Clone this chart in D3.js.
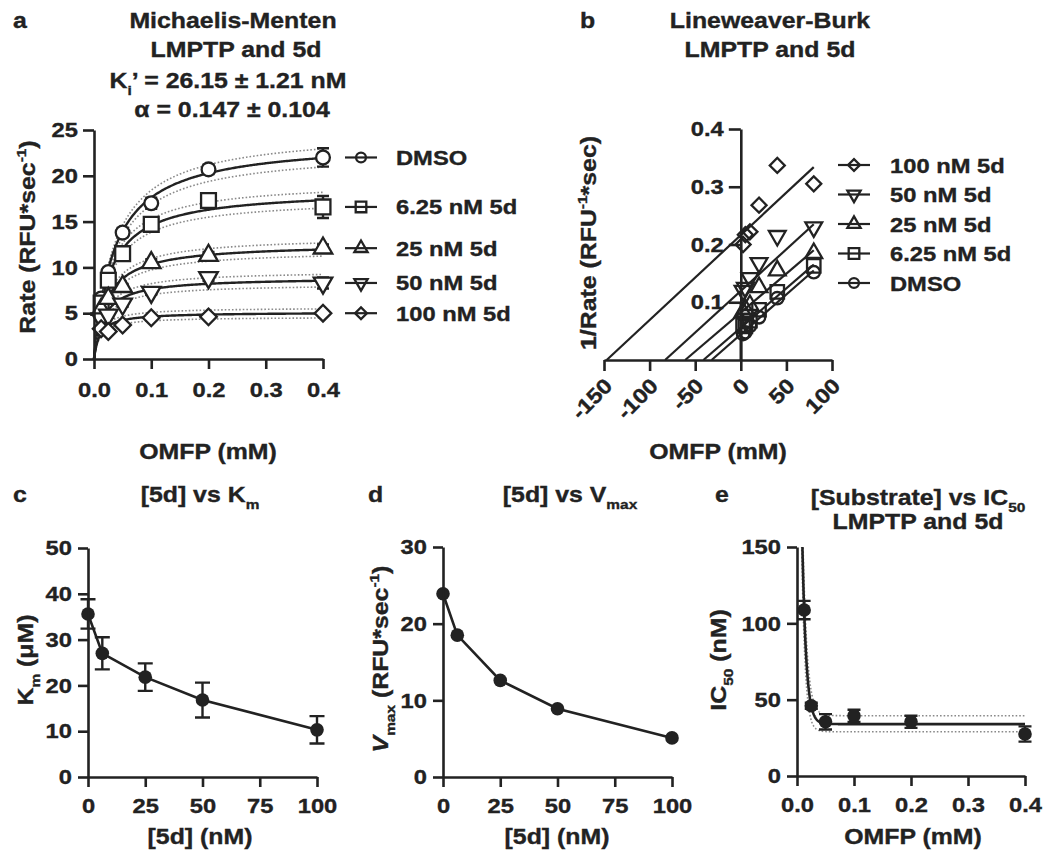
<!DOCTYPE html>
<html><head><meta charset="utf-8">
<script src="https://cdn.jsdelivr.net/npm/d3@7"></script>
<style>
body{margin:0;background:#fff}
svg{display:block}
text{font-family:"Liberation Sans",Arial,Helvetica,sans-serif;font-weight:bold;fill:#222;stroke:#222;stroke-width:0.35px}
</style>
</head><body>
<svg id="chart" width="1050" height="867"></svg>
<script>
// ---------------- DATA ----------------
const seriesNames = ["DMSO", "6.25 nM 5d", "25 nM 5d", "50 nM 5d", "100 nM 5d"];
const inhibitorConc = [0, 6.25, 25, 50, 100];           // nM 5d
const substrate = [0.0125, 0.025, 0.05, 0.1, 0.2, 0.4]; // OMFP mM

// Panel a: rates (RFU/sec)
const rateDMSO = [6.6, 9.5, 13.8, 17.0, 20.7, 22.0];
const rate625  = [6.1, 8.6, 11.5, 14.7, 17.3, 16.6];
const rate25   = [5.4, 6.6, 7.9, 10.5, 11.3, 12.1];
const rate50   = [4.4, 4.8, 6.0, 7.3, 8.9, 8.3];
const rate100  = [3.3, 3.0, 3.7, 4.5, 4.6, 5.0];
const errDMSO = [0.3, 0.4, 0.5, 0.6, 0.5, 1.0];
const err625  = [0.3, 0.4, 0.4, 0.5, 0.5, 1.2];
const err25   = [0.2, 0.3, 0.3, 0.4, 0.4, 0.4];
const err50   = [0.2, 0.3, 0.3, 0.3, 0.4, 0.6];
const err100  = [0.2, 0.2, 0.2, 0.2, 0.2, 0.2];
const bandFrac = [0.045, 0.05, 0.06, 0.08, 0.1];   // relative width of 95% CI bands

// Panel b: Lineweaver-Burk
const invSubstrate = [80, 40, 20, 10, 5, 2.5];
const invRateDMSO = [0.152, 0.107, 0.074, 0.059, 0.048, 0.045];
const invRate625  = [0.163, 0.118, 0.087, 0.068, 0.058, 0.060];
const invRate25   = [0.185, 0.155, 0.126, 0.095, 0.088, 0.083];
const invRate50   = [0.230, 0.215, 0.168, 0.142, 0.125, 0.120];
const invRate100  = [0.305, 0.337, 0.268, 0.222, 0.217, 0.200];
const lbIntercept = [0.0443, 0.0559, 0.0822, 0.1197, 0.2163];
const lbSlope     = [0.001384, 0.001364, 0.001348, 0.001442, 0.001471];

// Panels c, d
const kmValues = [35.6, 27.0, 21.8, 16.8, 10.3];   // µM
const kmErr    = [3.2, 3.5, 3.0, 3.8, 3.0];
const vmaxValues = [23.9, 18.5, 12.6, 8.9, 5.1];
const vmaxErr    = [0.3, 0.3, 0.3, 0.3, 0.2];

// Panel e
const ic50Values = [108.7, 46.0, 35.5, 39.4, 35.5, 27.5];
const ic50Err    = [6, 2, 5, 4, 4, 5];
const ic50Plateau = 34, ic50Span = 468, ic50K = 146.6;
const ic50BandHi = 39.5, ic50BandLo = 29, ic50KHi = 135, ic50KLo = 165;

// Ticks
const tickAx = [0, 0.1, 0.2, 0.3, 0.4], tickAy = [0, 5, 10, 15, 20, 25];
const tickBx = [-150, -100, -50, 0, 50, 100], tickBy = [0.1, 0.2, 0.3, 0.4];
const tickCx = [0, 25, 50, 75, 100], tickCy = [0, 10, 20, 30, 40, 50];
const tickDy = [0, 10, 20, 30];
const tickEx = [0, 0.1, 0.2, 0.3, 0.4], tickEy = [0, 50, 100, 150];

// ---------------- HELPERS ----------------
const SX = 1.13, INK = "#222";
const svg = d3.select("#chart");

function addText(parent, x, y, parts, o = {}) {
  const size = o.size || 22;
  const g = parent.append("g").attr("transform",
    `translate(${x},${y})${o.rot ? ` rotate(${o.rot})` : ""} scale(${SX},1)`);
  const t = g.append("text").attr("text-anchor", o.anchor || "middle").attr("font-size", size);
  if (typeof parts === "string") parts = [[parts]];
  let shift = 0;
  parts.forEach(([s, k]) => {
    const sp = t.append("tspan").text(s);
    let target = 0, fs = size;
    if (k === "sub") { target = size * 0.3; fs = size * 0.62; }
    else if (k === "sup") { target = -size * 0.42; fs = size * 0.62; }
    if (k === "i") sp.attr("font-style", "italic");
    sp.attr("font-size", fs);
    if (target !== shift) { sp.attr("dy", target - shift); shift = target; }
  });
  return g;
}

function drawAxis(g, axis, size = 21) {
  g.call(axis);
  g.attr("font-size", size).attr("font-family", null);
  g.select(".domain").attr("stroke", INK).attr("stroke-width", 2.6);
  g.selectAll(".tick line").attr("stroke", INK).attr("stroke-width", 2.6);
  g.selectAll(".tick text").each(function () {
    const t = d3.select(this);
    const x = +t.attr("x") || 0, y = +t.attr("y") || 0;
    t.attr("x", null).attr("y", null).attr("transform", `translate(${x},${y}) scale(${SX},1)`);
  });
}

function symbolPath(i, s = 1) {
  if (i === 0) return { d: d3.symbol(d3.symbolCircle, 135 * s * s)(), r: 0 };
  if (i === 1) return { d: d3.symbol(d3.symbolSquare, 200 * s * s)(), r: 0 };
  if (i === 2) return { d: d3.symbol(d3.symbolTriangle, 135 * s * s)(), r: 0 };
  if (i === 3) return { d: d3.symbol(d3.symbolTriangle, 135 * s * s)(), r: 180 };
  return { d: d3.symbol(d3.symbolSquare, 125 * s * s)(), r: 45 };
}
function drawSymbol(g, i, x, y, s, fill) {
  const p = symbolPath(i, s);
  g.append("path").attr("d", p.d)
    .attr("transform", `translate(${x},${y}) rotate(${p.r})`)
    .attr("fill", fill).attr("stroke", INK).attr("stroke-width", 2.3);
}
function errBar(g, x, y0, y1, cap) {
  g.append("path").attr("d", `M${x},${y0}V${y1}M${x - cap / 2},${y0}H${x + cap / 2}M${x - cap / 2},${y1}H${x + cap / 2}`)
    .attr("stroke", INK).attr("stroke-width", 2.4).attr("fill", "none");
}

// ---------------- PANEL A ----------------
{
  const g = svg.append("g");
  const x = d3.scaleLinear().domain([0, 0.4]).range([94, 323]);
  const y = d3.scaleLinear().domain([0, 25]).range([359, 130]);
  const rates = [rateDMSO, rate625, rate25, rate50, rate100];
  const errs = [errDMSO, err625, err25, err50, err100];
  const sGrid = d3.range(0, 0.4001, 0.002);

  rates.forEach((r, i) => {
    const vmax = vmaxValues[i], km = kmValues[i] / 1000;
    const f = (s, m) => vmax * m * s / (km + s);
    [1 + bandFrac[i], 1 - bandFrac[i]].forEach(m => {
      g.append("path").datum(sGrid)
        .attr("d", d3.line().x(s => x(s)).y(s => y(f(s, m))))
        .attr("fill", "none").attr("stroke", "#8a8a8a").attr("stroke-width", 1.6)
        .attr("stroke-dasharray", "1.6,2");
    });
    g.append("path").datum(sGrid)
      .attr("d", d3.line().x(s => x(s)).y(s => y(f(s, 1))))
      .attr("fill", "none").attr("stroke", INK).attr("stroke-width", 2.4);
  });
  rates.forEach((r, i) => {
    r.forEach((v, j) => errBar(g, x(substrate[j]), y(v - errs[i][j]), y(v + errs[i][j]), 12));
  });
  rates.forEach((r, i) => {
    r.forEach((v, j) => drawSymbol(g, i, x(substrate[j]), y(v), 1.05, "#fff"));
  });

  drawAxis(g.append("g").attr("transform", "translate(94,0)"),
    d3.axisLeft(y).tickValues(tickAy).tickSize(11).tickPadding(5).tickSizeOuter(0));
  drawAxis(g.append("g").attr("transform", "translate(0,359)"),
    d3.axisBottom(x).tickValues(tickAx).tickFormat(d3.format(".1f")).tickSize(10).tickPadding(13).tickSizeOuter(0));

  // legend aligned with last points
  rates.forEach((r, i) => {
    const ly = y(r[r.length - 1]);
    g.append("line").attr("x1", 345).attr("x2", 377).attr("y1", ly).attr("y2", ly)
      .attr("stroke", INK).attr("stroke-width", 2.2);
    drawSymbol(g, i, 361, ly, 0.75, "none");
    addText(g, 396, ly + 7.5, seriesNames[i], { size: 21, anchor: "start" });
  });

  addText(g, 13, 28, "a", { anchor: "start" });
  addText(g, 233, 28, "Michaelis-Menten");
  addText(g, 236, 57, "LMPTP and 5d");
  addText(g, 228, 88, [["K"], ["i", "sub"], ["’ = 26.15 ± 1.21 nM"]]);
  addText(g, 232, 117, "α = 0.147 ± 0.104");
  addText(g, 208, 459, "OMFP (mM)");
  addText(g, 35, 237, [["Rate (RFU*sec"], ["-1", "sup"], [")"]], { rot: -90 });
}

// ---------------- PANEL B ----------------
{
  const g = svg.append("g");
  const x = d3.scaleLinear().domain([-150, 100]).range([604, 832]);
  const y = d3.scaleLinear().domain([0, 0.4]).range([360, 129]);
  const inv = [invRateDMSO, invRate625, invRate25, invRate50, invRate100];

  inv.forEach((r, i) => {
    const x0 = -lbIntercept[i] / lbSlope[i], x1 = invSubstrate[0];
    g.append("path").datum([x0, x1])
      .attr("d", d3.line().x(v => x(v)).y(v => y(lbIntercept[i] + lbSlope[i] * v)))
      .attr("stroke", INK).attr("stroke-width", 2.2).attr("fill", "none");
  });
  inv.forEach((r, i) => {
    r.forEach((v, j) => drawSymbol(g, i, x(invSubstrate[j]), y(v), 0.95, "none"));
  });

  drawAxis(g.append("g").attr("transform", `translate(${x(0)},0)`),
    d3.axisLeft(y).tickValues(tickBy).tickFormat(d3.format(".1f")).tickSize(12).tickPadding(5).tickSizeOuter(0));
  g.append("line").attr("x1", x(0)).attr("x2", x(0)).attr("y1", y(0.1)).attr("y2", y(0))
    .attr("stroke", INK).attr("stroke-width", 2.6);
  const xa = g.append("g").attr("transform", "translate(0,360)");
  drawAxis(xa, d3.axisBottom(x).tickValues(tickBx).tickFormat(d => String(d)).tickSize(11).tickPadding(5).tickSizeOuter(0));
  xa.selectAll(".tick text").attr("text-anchor", "end").attr("dy", "0.35em")
    .attr("transform", `translate(4,22) rotate(-45) scale(${SX},1)`);

  const legendOrder = [4, 3, 2, 1, 0];
  legendOrder.forEach((i, k) => {
    const ly = 165 + k * 29.5;
    g.append("line").attr("x1", 838).attr("x2", 870).attr("y1", ly).attr("y2", ly)
      .attr("stroke", INK).attr("stroke-width", 2.2);
    drawSymbol(g, i, 854, ly, 0.75, "none");
    addText(g, 890, ly + 7.5, seriesNames[i], { size: 21, anchor: "start" });
  });

  addText(g, 580, 28, "b", { anchor: "start" });
  addText(g, 770, 28, "Lineweaver-Burk");
  addText(g, 770, 57, "LMPTP and 5d");
  addText(g, 718, 459, "OMFP (mM)");
  addText(g, 596, 243, [["1/Rate (RFU"], ["-1", "sup"], ["*sec)"]], { rot: -90 });
}

// ---------------- PANEL C ----------------
{
  const g = svg.append("g");
  const x = d3.scaleLinear().domain([0, 100]).range([88, 317]);
  const y = d3.scaleLinear().domain([0, 50]).range([777, 548]);
  g.append("path").datum(kmValues)
    .attr("d", d3.line().x((v, j) => x(inhibitorConc[j])).y(v => y(v)))
    .attr("fill", "none").attr("stroke", INK).attr("stroke-width", 2.6);
  kmValues.forEach((v, j) => errBar(g, x(inhibitorConc[j]), y(v - kmErr[j]), y(v + kmErr[j]), 15));
  kmValues.forEach((v, j) => g.append("circle").attr("cx", x(inhibitorConc[j])).attr("cy", y(v)).attr("r", 6.8).attr("fill", INK));
  drawAxis(g.append("g").attr("transform", "translate(88,0)"),
    d3.axisLeft(y).tickValues(tickCy).tickSize(10).tickPadding(6).tickSizeOuter(0));
  drawAxis(g.append("g").attr("transform", "translate(0,777)"),
    d3.axisBottom(x).tickValues(tickCx).tickSize(10).tickPadding(11).tickSizeOuter(0));
  addText(g, 13, 502, "c", { anchor: "start" });
  addText(g, 200, 502, [["[5d] vs K"], ["m", "sub"]]);
  addText(g, 200, 844, "[5d] (nM)");
  addText(g, 33, 660, [["K"], ["m", "sub"], ["  (μM)"]], { rot: -90 });
}

// ---------------- PANEL D ----------------
{
  const g = svg.append("g");
  const x = d3.scaleLinear().domain([0, 100]).range([443, 672]);
  const y = d3.scaleLinear().domain([0, 30]).range([777, 547]);
  g.append("path").datum(vmaxValues)
    .attr("d", d3.line().x((v, j) => x(inhibitorConc[j])).y(v => y(v)))
    .attr("fill", "none").attr("stroke", INK).attr("stroke-width", 2.6);
  vmaxValues.forEach((v, j) => errBar(g, x(inhibitorConc[j]), y(v - vmaxErr[j]), y(v + vmaxErr[j]), 10));
  vmaxValues.forEach((v, j) => g.append("circle").attr("cx", x(inhibitorConc[j])).attr("cy", y(v)).attr("r", 6.8).attr("fill", INK));
  drawAxis(g.append("g").attr("transform", "translate(443,0)"),
    d3.axisLeft(y).tickValues(tickDy).tickSize(10).tickPadding(6).tickSizeOuter(0));
  drawAxis(g.append("g").attr("transform", "translate(0,777)"),
    d3.axisBottom(x).tickValues(tickCx).tickSize(10).tickPadding(11).tickSizeOuter(0));
  addText(g, 368, 502, "d", { anchor: "start" });
  addText(g, 570, 502, [["[5d] vs V"], ["max", "sub"]]);
  addText(g, 557, 844, "[5d] (nM)");
  addText(g, 388, 659, [["V", "i"], ["max", "sub"], [" (RFU*sec"], ["-1", "sup"], [")"]], { rot: -90 });
}

// ---------------- PANEL E ----------------
{
  const g = svg.append("g");
  const x = d3.scaleLinear().domain([0, 0.4]).range([797, 1025]);
  const y = d3.scaleLinear().domain([0, 150]).range([776, 547]);
  svg.append("clipPath").attr("id", "clipE").append("rect")
    .attr("x", 797).attr("y", 547).attr("width", 240).attr("height", 229);
  const sGrid = d3.range(0.004, 0.4001, 0.0005);
  const pg = g.append("g").attr("clip-path", "url(#clipE)");
  [[ic50BandHi, ic50KHi], [ic50BandLo, ic50KLo]].forEach(([p, k]) => {
    pg.append("path").datum(sGrid)
      .attr("d", d3.line().x(s => x(s)).y(s => y(p + ic50Span * Math.exp(-k * s))))
      .attr("fill", "none").attr("stroke", "#8a8a8a").attr("stroke-width", 1.6).attr("stroke-dasharray", "1.6,2");
  });
  pg.append("path").datum(sGrid)
    .attr("d", d3.line().x(s => x(s)).y(s => y(ic50Plateau + ic50Span * Math.exp(-ic50K * s))))
    .attr("fill", "none").attr("stroke", INK).attr("stroke-width", 2.6);
  ic50Values.forEach((v, j) => errBar(g, x(substrate[j]), y(v - ic50Err[j]), y(v + ic50Err[j]), 13));
  ic50Values.forEach((v, j) => g.append("circle").attr("cx", x(substrate[j])).attr("cy", y(v)).attr("r", 6.8).attr("fill", INK));
  drawAxis(g.append("g").attr("transform", "translate(797,0)"),
    d3.axisLeft(y).tickValues(tickEy).tickSize(10).tickPadding(6).tickSizeOuter(0));
  drawAxis(g.append("g").attr("transform", "translate(0,776)"),
    d3.axisBottom(x).tickValues(tickEx).tickFormat(d3.format(".1f")).tickSize(10).tickPadding(11).tickSizeOuter(0));
  addText(g, 715, 502, "e", { anchor: "start" });
  addText(g, 918, 505, [["[Substrate] vs IC"], ["50", "sub"]]);
  addText(g, 918, 529, "LMPTP and 5d");
  addText(g, 913, 844, "OMFP (mM)");
  addText(g, 726, 660, [["IC"], ["50", "sub"], [" (nM)"]], { rot: -90 });
}
</script>
</body></html>
